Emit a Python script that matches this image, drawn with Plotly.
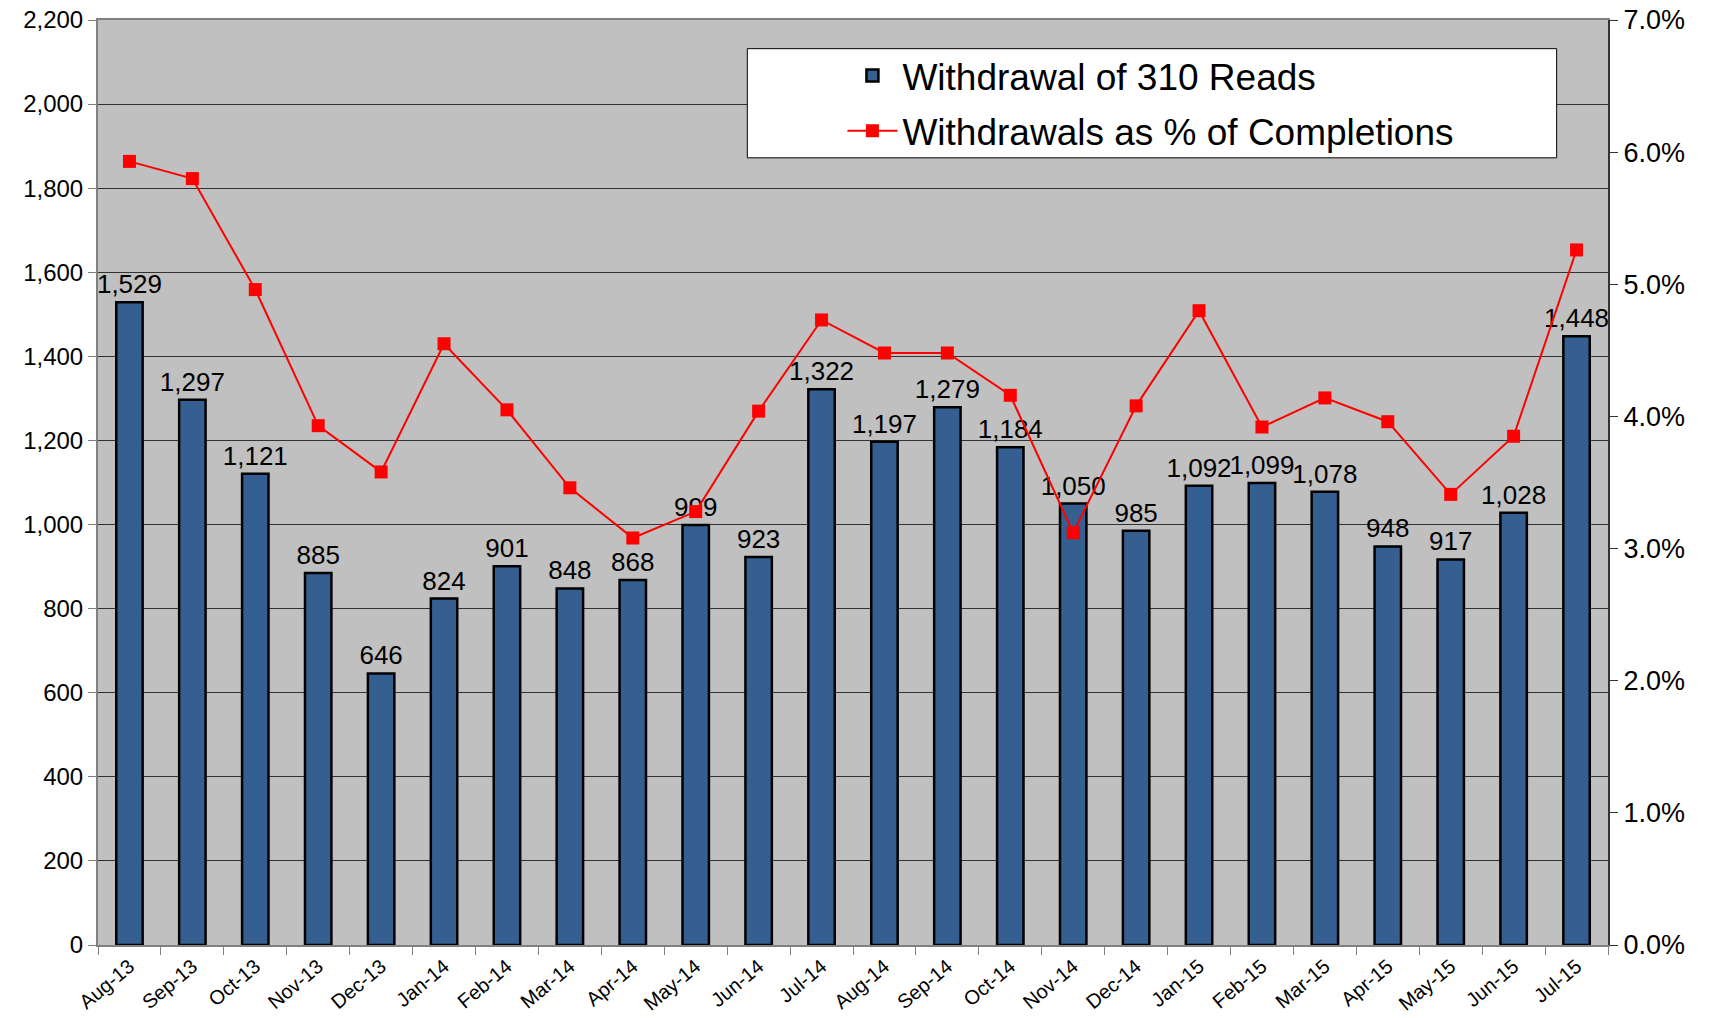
import plotly.graph_objects as go

months = ["Aug-13", "Sep-13", "Oct-13", "Nov-13", "Dec-13", "Jan-14", "Feb-14", "Mar-14",
          "Apr-14", "May-14", "Jun-14", "Jul-14", "Aug-14", "Sep-14", "Oct-14", "Nov-14",
          "Dec-14", "Jan-15", "Feb-15", "Mar-15", "Apr-15", "May-15", "Jun-15", "Jul-15"]
withdrawals = [1529, 1297, 1121, 885, 646, 824, 901, 848, 868, 999, 923, 1322,
               1197, 1279, 1184, 1050, 985, 1092, 1099, 1078, 948, 917, 1028, 1448]
pct_completions = [5.93, 5.80, 4.96, 3.93, 3.58, 4.55, 4.05, 3.46, 3.08, 3.28, 4.04, 4.73,
                   4.48, 4.48, 4.16, 3.12, 4.08, 4.80, 3.92, 4.14, 3.96, 3.41, 3.85, 5.26]
left_ticks = list(range(0, 2201, 200))
right_ticks = [0, 1, 2, 3, 4, 5, 6, 7]
right_labels = [f"{v:.1f}%" for v in right_ticks]

FONT = "Liberation Sans, Arial, sans-serif"

fig = go.Figure()
fig.add_trace(go.Bar(
    x=months, y=withdrawals, name="Withdrawal of 310 Reads",
    marker=dict(color="#355F91", line=dict(color="#000000", width=2.5)),
    width=0.42,
    texttemplate="%{y:,}", textposition="outside", textangle=0,
    constraintext="none", cliponaxis=False,
    textfont=dict(size=26, color="#000000", family=FONT),
    legendgroup="a",
))
fig.add_trace(go.Scatter(
    x=months, y=pct_completions, name="Withdrawals as % of Completions",
    yaxis="y2", mode="lines+markers",
    line=dict(color="#FF0000", width=2),
    marker=dict(symbol="square", size=13, color="#FF0000"),
    legendgroup="b",
))

fig.update_layout(
    width=1713, height=1018,
    margin=dict(l=98, r=105, t=20, b=73, autoexpand=False),
    paper_bgcolor="#FFFFFF", plot_bgcolor="#C0C0C0",
    font=dict(family=FONT, color="#000000"),
    separators=".,",
    bargap=0.58,
    showlegend=True,
    legend=dict(x=0.493, y=0.973, xanchor="left", yanchor="top",
                bgcolor="rgba(0,0,0,0)", borderwidth=0,
                font=dict(size=37, family=FONT),
                traceorder="grouped", tracegroupgap=4,
                itemwidth=50),
    xaxis=dict(type="category", tickangle=-40, tickfont=dict(size=20),
               ticks="outside", ticklen=8, tickcolor="#808080", tickson="boundaries",
               showline=True, linecolor="#808080", linewidth=2, mirror=True,
               showgrid=False, range=[-0.5, len(months) - 0.5], automargin=False,
               ticklabeloverflow="allow"),
    yaxis=dict(range=[0, 2200], tickvals=left_ticks, tickformat=",",
               tickfont=dict(size=24), ticks="outside", ticklen=8, tickcolor="#808080",
               showline=True, linecolor="#808080", linewidth=2,
               showgrid=True, gridcolor="#333333", gridwidth=1, zeroline=False,
               automargin=False, ticklabeloverflow="allow"),
    yaxis2=dict(range=[0, 7], tickvals=right_ticks, ticktext=right_labels,
                overlaying="y", side="right", tickfont=dict(size=27),
                ticks="outside", ticklen=8, tickcolor="#333333",
                showline=True, linecolor="#333333", linewidth=2,
                showgrid=False, zeroline=False, automargin=False,
                ticklabeloverflow="allow"),
    shapes=[dict(type="rect", xref="paper", yref="paper",
                 x0=0.430, x1=0.966, y0=0.851, y1=0.969,
                 fillcolor="#FFFFFF", line=dict(color="#000000", width=1), layer="above")],
)

fig.write_html("out.html", config={"displayModeBar": False},
               post_script="document.body.style.margin='0';document.body.style.overflow='hidden';")
